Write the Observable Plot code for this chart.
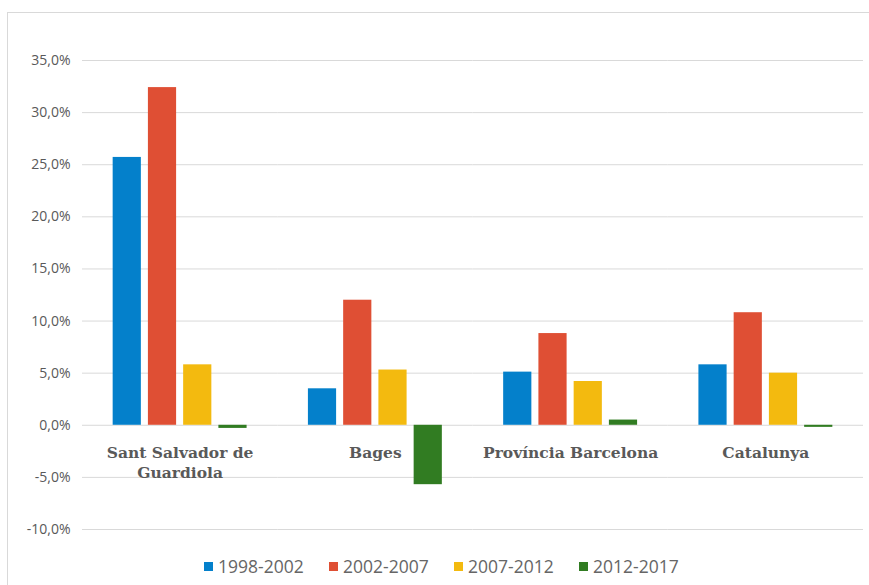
<!DOCTYPE html>
<html>
<head>
<meta charset="utf-8">
<script src="https://cdn.jsdelivr.net/npm/d3@7"></script>
<script src="https://cdn.jsdelivr.net/npm/@observablehq/plot@0.6"></script>
<style>
  html, body { margin: 0; padding: 0; background: #fff; width: 869px; height: 585px; overflow: hidden; }
  #frame { position: absolute; left: 7px; top: 12px; width: 900px; height: 620px; border: 1px solid #d9d9d9; box-sizing: border-box; }
  #chart { position: absolute; left: 0; top: 0; }
  #legend { position: absolute; left: 204px; top: 554px; }
  .lg-swatches { margin: 0 !important; min-height: 20px !important; flex-wrap: nowrap !important; }
  .lg-swatch { width: 125px; margin-right: 0 !important; font: 17.5px "Open Sans", sans-serif; color: #666666; white-space: nowrap; }
  .lg-swatch > svg { margin-right: 5px !important; }
</style>
</head>
<body>
<div id="frame"></div>
<div id="chart"></div>
<div id="legend"></div>
<script>
const categories = ["Sant Salvador de\nGuardiola", "Bages", "Província Barcelona", "Catalunya"];
const periods = ["1998-2002", "2002-2007", "2007-2012", "2012-2017"];
const colors = ["#0480CB", "#DF4F34", "#F3BA0F", "#317C22"];
const values1998_2002 = [25.7, 3.5, 5.1, 5.8];
const values2002_2007 = [32.4, 12.0, 8.8, 10.8];
const values2007_2012 = [5.8, 5.3, 4.2, 5.0];
const values2012_2017 = [-0.3, -5.7, 0.5, -0.2];
const yTicks = [-10, -5, 0, 5, 10, 15, 20, 25, 30, 35];

const series = [values1998_2002, values2002_2007, values2007_2012, values2012_2017];
const data = [];
categories.forEach((c, i) => periods.forEach((p, j) => data.push({region: c, period: p, value: series[j][i]})));

const fmt = d => d.toFixed(1).replace(".", ",") + "%";

const chart = Plot.plot({
  width: 869,
  height: 545,
  marginTop: 60,
  marginBottom: 16,
  marginLeft: 82,
  marginRight: 6,
  style: {background: "transparent"},
  fx: {domain: categories, padding: 0, axis: null, round: false},
  x: {domain: periods, paddingInner: 0.2, paddingOuter: 0.87, axis: null, round: false},
  y: {domain: [-10, 35]},
  color: {domain: periods, range: colors},
  marks: [
    Plot.gridY(yTicks, {stroke: "#d9d9d9", strokeOpacity: 1, strokeWidth: 1}),
    Plot.axisY(yTicks, {tickSize: 0, tickPadding: 12, tickFormat: fmt, fontSize: 14, fontFamily: "Open Sans", fill: "#595959", label: null}),
    Plot.barY(data, {fx: "region", x: "period", y: "value", fill: "period"}),
    Plot.text(categories, {fx: d => d, y: d => 0, text: d => d, lineAnchor: "top", dy: 18, lineHeight: 1.3,
      fontFamily: "DejaVu Serif", fontWeight: "bold", fontSize: 15.5, fill: "#595959"})
  ]
});
document.getElementById("chart").appendChild(chart);
const legend = chart.legend("color", {legend: "swatches", className: "lg", swatchSize: 9});
document.getElementById("legend").appendChild(legend);
</script>
</body>
</html>
